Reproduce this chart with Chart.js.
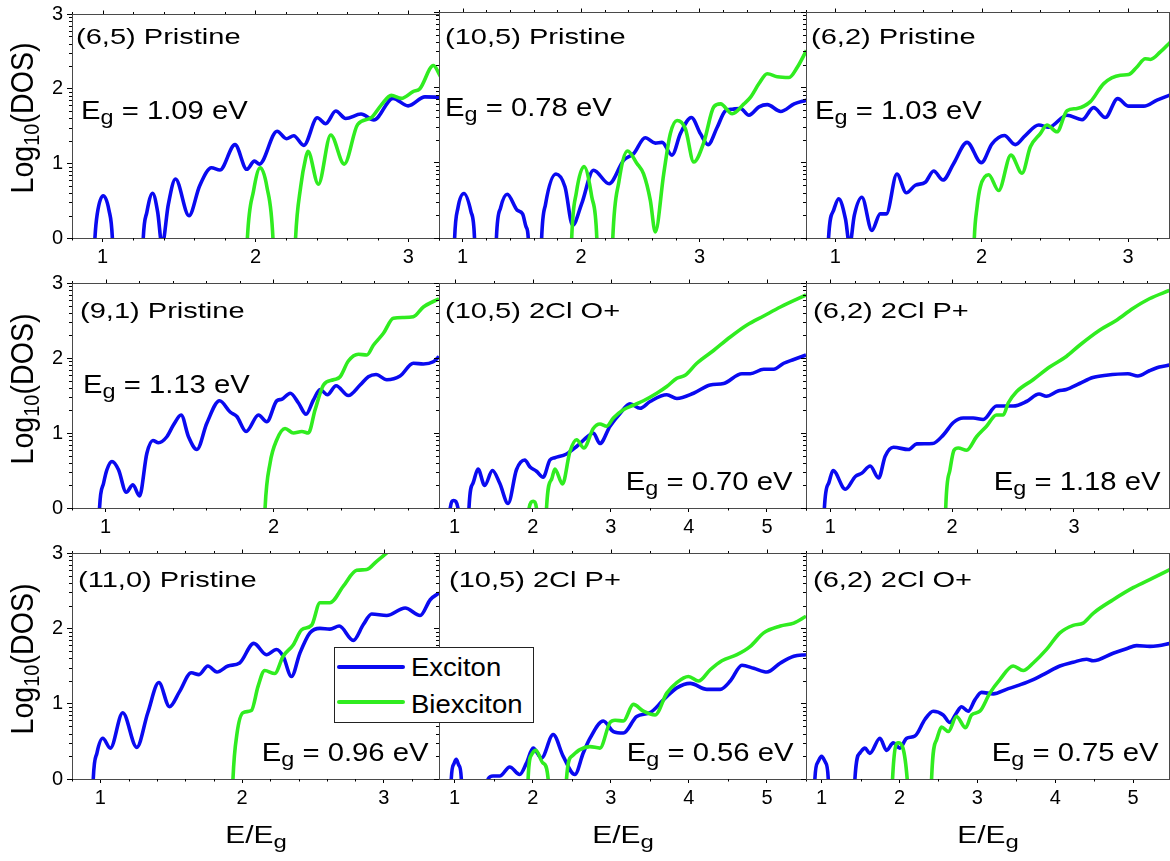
<!DOCTYPE html>
<html><head><meta charset="utf-8">
<script src="https://cdn.jsdelivr.net/npm/chart.js@4.4.1/dist/chart.umd.min.js"></script>
<style>
html,body{margin:0;padding:0;background:#fff;}
#fig{position:relative;width:1170px;height:861px;overflow:hidden;background:#fff;font-family:"Liberation Sans",Arial,sans-serif;color:#000;}
#fig canvas{position:absolute;left:0;top:0;}
.lbl{position:absolute;white-space:nowrap;line-height:1;color:#000;}
.sub{position:relative;}
#legend{position:absolute;box-sizing:border-box;background:#fff;border:1px solid #222;z-index:5;}
</style></head>
<body><div id="fig"></div>
<script>
// ---------------- data ----------------
const SERIES_NAMES = ['Exciton', 'Biexciton'];
const PANEL_TITLES = ['(6,5) Pristine', '(10,5) Pristine', '(6,2) Pristine',
                      '(9,1) Pristine', '(10,5) 2Cl O+', '(6,2) 2Cl P+',
                      '(11,0) Pristine', '(10,5) 2Cl P+', '(6,2) 2Cl O+'];
const GAP_VALUES = ['1.09', '0.78', '1.03', '1.13', '0.70', '1.18', '0.96', '0.56', '0.75'];
const X_TICKS_TWO = [1, 2];
const X_TICKS_SHORT = [1, 2, 3];
const X_TICKS_LONG = [1, 2, 3, 4, 5];
const Y_TICKS = [0, 1, 2, 3];
const X_RANGES = [[0.8, 3.2], [0.8, 3.9], [0.8, 3.28], [0.8, 2.986], [0.8, 5.5], [0.8, 3.78], [0.8, 3.39], [0.8, 5.5], [0.8, 5.46]];
const Y_RANGE = [0, 3];

// (6,5) Pristine
const EXC_65_P = [[0.93,-1],[0.95,0],[0.965,0.32],[1.004,0.566],[1.042,0.37],[1.064,0],[1.08,-1],
 [1.25,-1],[1.266,0],[1.29,0.35],[1.327,0.60],[1.36,0.35],[1.389,-0.1],[1.43,0.45],[1.477,0.79],[1.565,0.30],[1.635,0.70],[1.712,0.94],[1.767,0.91],[1.866,1.25],[1.943,0.92],[1.993,1.03],[2.026,0.99],[2.141,1.43],[2.202,1.33],[2.25,1.37],[2.316,1.24],[2.404,1.61],[2.459,1.53],[2.525,1.70],[2.59,1.60],[2.69,1.66],[2.774,1.58],[2.899,1.87],[2.998,1.77],[3.108,1.89],[3.211,1.885]];
const BIX_65_P = [[1.93,-1],[1.947,0],[1.987,0.63],[2.031,0.94],[2.075,0.68],[2.114,0],[2.13,-1],
 [2.245,-1],[2.262,0],[2.295,0.68],[2.328,1.07],[2.343,1.16],[2.411,0.72],[2.492,1.38],[2.58,0.99],[2.668,1.52],[2.756,1.61],[2.822,1.78],[2.888,1.91],[2.954,1.87],[3.03,1.96],[3.075,2.0],[3.163,2.31],[3.211,2.16]];
// (10,5) Pristine
const EXC_105_P = [[0.915,-1],[0.932,0],[0.96,0.40],[1.011,0.59],[1.07,0.35],[1.10,0],[1.115,-1],
 [1.27,-1],[1.285,0],[1.32,0.40],[1.376,0.58],[1.46,0.37],[1.506,0.32],[1.535,0.15],[1.554,0],[1.57,-1],
 [1.65,-1],[1.667,0],[1.70,0.45],[1.788,0.85],[1.864,0.68],[1.929,0.17],[2.006,0.46],[2.105,0.90],[2.237,0.72],[2.359,1.03],[2.444,1.12],[2.542,1.33],[2.627,1.26],[2.684,1.27],[2.768,1.10],[2.839,1.385],[2.932,1.60],[3.008,1.385],[3.073,1.24],[3.15,1.47],[3.22,1.69],[3.277,1.71],[3.347,1.72],[3.418,1.63],[3.503,1.74],[3.573,1.77],[3.686,1.68],[3.80,1.78],[3.904,1.83]];
const BIX_105_P = [[1.905,-1],[1.921,0],[1.96,0.60],[2.025,0.95],[2.09,0.55],[2.133,0],[2.15,-1],
 [2.25,-1],[2.268,0],[2.32,0.75],[2.393,1.155],[2.472,0.99],[2.528,0.85],[2.585,0.50],[2.627,0.08],[2.698,0.85],[2.754,1.385],[2.811,1.56],[2.881,1.45],[2.952,1.01],[3.037,1.27],[3.121,1.74],[3.178,1.78],[3.277,1.65],[3.376,1.78],[3.432,1.87],[3.503,2.05],[3.573,2.18],[3.658,2.14],[3.757,2.13],[3.828,2.27],[3.904,2.49]];
// (6,2) Pristine
const EXC_62_P = [[0.94,-1],[0.954,0],[0.989,0.37],[1.023,0.52],[1.07,0.25],[1.098,-0.1],[1.13,0.30],[1.182,0.54],[1.25,0.10],[1.307,0.32],[1.349,0.32],[1.421,0.85],[1.485,0.60],[1.547,0.70],[1.615,0.74],[1.672,0.89],[1.736,0.77],[1.809,0.99],[1.90,1.27],[1.998,1.0],[2.071,1.25],[2.155,1.36],[2.23,1.24],[2.298,1.36],[2.39,1.50],[2.458,1.47],[2.583,1.63],[2.686,1.57],[2.765,1.73],[2.845,1.60],[2.929,1.85],[3.005,1.75],[3.107,1.75],[3.198,1.83],[3.289,1.90]];
const BIX_62_P = [[1.935,-1],[1.95,0],[1.968,0.40],[1.991,0.68],[2.048,0.84],[2.116,0.63],[2.20,1.10],[2.276,0.86],[2.333,1.21],[2.401,1.385],[2.446,1.50],[2.515,1.41],[2.583,1.69],[2.652,1.72],[2.743,1.81],[2.834,2.05],[2.948,2.16],[3.005,2.17],[3.061,2.27],[3.118,2.38],[3.153,2.37],[3.221,2.47],[3.289,2.60]];
// (9,1) Pristine
const EXC_91_P = [[0.95,-1],[0.964,0],[0.988,0.33],[1.008,0.51],[1.038,0.62],[1.077,0.51],[1.123,0.21],[1.163,0.31],[1.202,0.16],[1.246,0.73],[1.282,0.90],[1.315,0.87],[1.365,0.95],[1.405,1.11],[1.45,1.24],[1.494,0.95],[1.544,0.78],[1.603,1.13],[1.679,1.43],[1.742,1.28],[1.782,1.22],[1.837,1.02],[1.911,1.24],[1.96,1.15],[2.02,1.43],[2.05,1.45],[2.10,1.53],[2.149,1.40],[2.194,1.25],[2.238,1.44],[2.278,1.58],[2.321,1.51],[2.373,1.63],[2.446,1.50],[2.516,1.64],[2.565,1.75],[2.611,1.78],[2.675,1.71],[2.754,1.76],[2.833,1.93],[2.893,1.92],[2.952,1.95],[2.986,2.02]];
const BIX_91_P = [[1.935,-1],[1.95,0],[1.98,0.60],[2.02,0.91],[2.069,1.06],[2.119,1.0],[2.169,1.02],[2.208,1.0],[2.248,1.31],[2.298,1.64],[2.357,1.71],[2.397,1.75],[2.446,1.96],[2.506,2.05],[2.556,2.04],[2.595,2.17],[2.655,2.33],[2.714,2.53],[2.774,2.54],[2.833,2.55],[2.893,2.68],[2.986,2.79]];
// (10,5) 2Cl O+
const EXC_105_O = [[0.93,-1],[0.944,0],[0.987,0.10],[1.043,0],[1.06,-1],
 [1.17,-1],[1.184,0],[1.235,0.33],[1.30,0.52],[1.385,0.30],[1.484,0.50],[1.578,0.33],[1.685,0.06],[1.792,0.51],[1.899,0.64],[1.963,0.55],[2.048,0.49],[2.134,0.41],[2.22,0.64],[2.284,0.67],[2.433,0.72],[2.562,0.82],[2.712,0.96],[2.776,1.0],[2.861,0.86],[2.99,1.09],[3.118,1.26],[3.246,1.39],[3.375,1.33],[3.503,1.42],[3.717,1.51],[3.846,1.46],[4.06,1.53],[4.273,1.64],[4.445,1.66],[4.68,1.79],[4.787,1.79],[4.958,1.85],[5.086,1.85],[5.215,1.93],[5.343,1.98],[5.50,2.04]];
const BIX_105_O = [[1.94,-1],[1.954,0],[2.006,0.09],[2.048,0],[2.06,-1],
 [2.165,-1],[2.177,0],[2.241,0.38],[2.284,0.52],[2.382,0.32],[2.476,0.75],[2.562,0.91],[2.656,0.80],[2.776,1.06],[2.861,1.12],[2.947,1.09],[3.033,1.20],[3.161,1.31],[3.289,1.37],[3.418,1.43],[3.589,1.53],[3.717,1.62],[3.846,1.73],[3.952,1.77],[4.102,1.93],[4.316,2.10],[4.53,2.28],[4.744,2.44],[4.958,2.56],[5.172,2.68],[5.50,2.84]];
// (6,2) 2Cl P+
const EXC_62_PP = [[0.94,-1],[0.951,0],[0.986,0.33],[1.022,0.50],[1.123,0.25],[1.205,0.42],[1.259,0.465],[1.327,0.56],[1.396,0.40],[1.45,0.69],[1.518,0.81],[1.641,0.78],[1.709,0.855],[1.84,0.86],[1.928,0.975],[2.01,1.14],[2.091,1.20],[2.173,1.20],[2.255,1.18],[2.364,1.36],[2.501,1.36],[2.61,1.42],[2.713,1.52],[2.773,1.49],[2.869,1.56],[2.937,1.58],[3.046,1.66],[3.155,1.74],[3.265,1.77],[3.442,1.79],[3.524,1.76],[3.619,1.83],[3.701,1.88],[3.783,1.905]];
const BIX_62_PP = [[1.935,-1],[1.947,0],[1.982,0.51],[2.015,0.77],[2.05,0.80],[2.119,0.77],[2.20,0.95],[2.282,1.09],[2.364,1.24],[2.419,1.24],[2.46,1.40],[2.528,1.55],[2.664,1.71],[2.80,1.88],[2.937,2.02],[3.046,2.17],[3.21,2.37],[3.346,2.50],[3.483,2.66],[3.619,2.79],[3.783,2.90]];
// (11,0) Pristine
const EXC_110_P = [[0.935,-1],[0.95,0],[0.976,0.345],[1.017,0.54],[1.071,0.41],[1.158,0.88],[1.257,0.42],[1.335,0.88],[1.413,1.28],[1.488,0.96],[1.559,1.16],[1.642,1.41],[1.696,1.385],[1.759,1.50],[1.823,1.42],[1.901,1.50],[1.983,1.54],[2.083,1.80],[2.172,1.65],[2.243,1.72],[2.29,1.63],[2.349,1.36],[2.408,1.67],[2.479,1.94],[2.55,2.0],[2.62,1.99],[2.686,2.03],[2.785,1.84],[2.856,2.05],[2.915,2.19],[3.021,2.17],[3.151,2.27],[3.257,2.17],[3.328,2.38],[3.392,2.47]];
const BIX_110_P = [[1.92,-1],[1.936,0],[1.965,0.61],[2.007,0.88],[2.066,0.91],[2.113,1.23],[2.16,1.44],[2.231,1.40],[2.29,1.63],[2.361,1.78],[2.42,1.98],[2.491,2.04],[2.55,2.34],[2.62,2.34],[2.715,2.56],[2.809,2.77],[2.88,2.78],[2.95,2.89],[3.021,3.0],[3.116,3.18],[3.2,3.4]];
// (10,5) 2Cl P+
const EXC_105_PP = [[0.94,-1],[0.957,0],[0.99,0.20],[1.021,0.26],[1.055,0.18],[1.086,0],[1.10,-1],
 [1.415,-1],[1.428,0],[1.492,0.04],[1.578,0.04],[1.706,0.16],[1.834,0.06],[1.92,0.21],[2.006,0.41],[2.113,0.28],[2.262,0.59],[2.391,0.30],[2.54,0.06],[2.647,0.345],[2.733,0.54],[2.904,0.77],[3.033,0.63],[3.161,0.61],[3.332,0.83],[3.503,0.88],[3.674,1.05],[3.845,1.21],[4.017,1.27],[4.231,1.19],[4.402,1.19],[4.53,1.30],[4.68,1.51],[4.83,1.47],[5.0,1.42],[5.172,1.54],[5.343,1.63],[5.50,1.65]];
const BIX_105_PP = [[1.93,-1],[1.941,0],[1.984,0.32],[2.04,0.38],[2.134,0.21],[2.198,0],[2.21,-1],
 [2.42,-1],[2.433,0],[2.498,0.30],[2.605,0.39],[2.733,0.43],[2.861,0.41],[2.99,0.75],[3.054,0.78],[3.161,0.77],[3.289,0.99],[3.418,0.90],[3.567,0.85],[3.717,1.14],[3.845,1.28],[3.995,1.36],[4.124,1.30],[4.273,1.45],[4.423,1.57],[4.616,1.65],[4.787,1.76],[4.958,1.94],[5.172,2.03],[5.343,2.07],[5.50,2.16]];
// (6,2) 2Cl O+
const EXC_62_O = [[0.90,-1],[0.914,0],[0.95,0.22],[1.0,0.30],[1.05,0.22],[1.086,0],[1.10,-1],
 [1.415,-1],[1.428,0],[1.492,0.345],[1.556,0.41],[1.62,0.34],[1.749,0.54],[1.834,0.38],[1.92,0.48],[2.005,0.41],[2.091,0.54],[2.198,0.57],[2.326,0.79],[2.433,0.90],[2.561,0.85],[2.647,0.75],[2.733,0.88],[2.797,0.96],[2.882,0.90],[2.968,1.05],[3.053,1.15],[3.203,1.13],[3.374,1.19],[3.545,1.25],[3.717,1.32],[3.888,1.41],[4.059,1.50],[4.23,1.55],[4.401,1.59],[4.487,1.57],[4.743,1.67],[4.914,1.73],[5.043,1.77],[5.214,1.76],[5.321,1.77],[5.471,1.80]];
const BIX_62_O = [[1.90,-1],[1.911,0],[1.984,0.48],[2.099,0],[2.11,-1],
 [2.40,-1],[2.412,0],[2.476,0.52],[2.54,0.69],[2.626,0.63],[2.733,0.83],[2.848,0.68],[2.925,0.85],[3.032,0.90],[3.16,1.14],[3.289,1.32],[3.46,1.50],[3.588,1.44],[3.717,1.54],[3.888,1.72],[4.059,1.94],[4.23,2.04],[4.358,2.07],[4.487,2.20],[4.743,2.38],[5.0,2.54],[5.257,2.67],[5.471,2.78]];

const EXCITON = [EXC_65_P, EXC_105_P, EXC_62_P, EXC_91_P, EXC_105_O, EXC_62_PP, EXC_110_P, EXC_105_PP, EXC_62_O];
const BIEXCITON = [BIX_65_P, BIX_105_P, BIX_62_P, BIX_91_P, BIX_105_O, BIX_62_PP, BIX_110_P, BIX_105_PP, BIX_62_O];
const X_TICKS = [X_TICKS_SHORT, X_TICKS_SHORT, X_TICKS_SHORT, X_TICKS_TWO, X_TICKS_LONG, X_TICKS_SHORT, X_TICKS_SHORT, X_TICKS_LONG, X_TICKS_LONG];

// ---------------- layout & style ----------------
const W = 1170, H = 861;
const COLS = [[72, 439], [439, 806], [806, 1169]];
const ROWS = [[12, 238], [283, 508], [553, 779]];
const BLUE = '#0a0af0', GREEN = '#30ec20', FRAME = '#4a4a4a';
const FONT = '"Liberation Sans", Arial, sans-serif';
const MINOR_STEP = [0.2, 0.2, 0.2, 0.2, 0.5, 0.2, 0.2, 0.5, 0.5];
// label anchor positions
const TITLE_POS = [[76, 37], [445, 37], [811, 37], [80, 311], [445, 311], [813, 311], [78, 580], [449, 580], [813, 580]];
const GAP_POS = [['l', 81, 110], ['l', 445, 107], ['l', 815, 110], ['l', 83, 384],
                 ['r', 792, 481], ['r', 1160, 481], ['r', 428, 752], ['r', 793, 752], ['r', 1158, 752]];

const fig = document.getElementById('fig');

const framePlugin = {
  id: 'frameTicks',
  afterDraw(chart, _args, o) {
    const {ctx, chartArea: a} = chart;
    const xs = chart.scales.x, ys = chart.scales.y;
    ctx.save();
    ctx.lineWidth = 1;
    ctx.strokeStyle = FRAME;
    ctx.strokeRect(Math.round(a.left) + 0.5, Math.round(a.top) + 0.5, Math.round(a.right - a.left), Math.round(a.bottom - a.top));
    ctx.strokeStyle = '#000';
    ctx.beginPath();
    const step = o.minorStep;
    const k0 = Math.ceil(xs.min / step - 1e-9);
    for (let k = k0; k * step <= xs.max + 1e-9; k++) {
      const v = k * step;
      const isMajor = Math.abs(v - Math.round(v)) < 1e-6;
      const px = Math.round(xs.getPixelForValue(v)) + 0.5;
      const len = isMajor ? 3.5 : 2;
      if (!isMajor) { ctx.moveTo(px, a.bottom); ctx.lineTo(px, a.bottom + 2.5); }
      ctx.moveTo(px, a.top); ctx.lineTo(px, a.top - len);
    }
    for (let d = 0; d < 3; d++) {
      for (let m = 2; m <= 9; m++) {
        const py = Math.round(ys.getPixelForValue(d + Math.log10(m))) + 0.5;
        ctx.moveTo(a.left, py); ctx.lineTo(a.left - 3, py);
      }
    }
    ctx.stroke();
    ctx.restore();
  }
};

function toXY(arr) { return arr.map(p => ({x: p[0], y: p[1]})); }

for (let i = 0; i < 9; i++) {
  const r = Math.floor(i / 3), c = i % 3;
  const [L, R] = COLS[c], [T, B] = ROWS[r];
  const yW = c === 0 ? 72 : 10;
  const xH = 32;
  const cv = document.createElement('canvas');
  cv.width = W; cv.height = H;
  cv.style.width = W + 'px'; cv.style.height = H + 'px';
  fig.appendChild(cv);
  const xt = X_TICKS[i];
  new Chart(cv, {
    type: 'line',
    data: {
      datasets: [
        {label: SERIES_NAMES[0], data: toXY(EXCITON[i]), borderColor: BLUE, backgroundColor: BLUE, order: 1},
        {label: SERIES_NAMES[1], data: toXY(BIEXCITON[i]), borderColor: GREEN, backgroundColor: GREEN, order: 0}
      ]
    },
    options: {
      responsive: false, animation: false, devicePixelRatio: 1, events: [],
      layout: {padding: {left: L - yW, top: T, right: W - R, bottom: H - B - xH}},
      elements: {
        line: {borderWidth: 3.6, cubicInterpolationMode: 'monotone', fill: false, capBezierPoints: true},
        point: {radius: 0, hoverRadius: 0}
      },
      datasets: {line: {clip: 0}},
      plugins: {legend: {display: false}, tooltip: {enabled: false}, frameTicks: {minorStep: MINOR_STEP[i]}},
      scales: {
        x: {
          type: 'linear', position: 'bottom', min: X_RANGES[i][0], max: X_RANGES[i][1],
          afterBuildTicks: s => { s.ticks = xt.map(v => ({value: v})); },
          afterFit: s => { s.height = xH; },
          ticks: {font: {family: FONT, size: 20, lineHeight: 1}, color: '#000', padding: 5, maxRotation: 0, autoSkip: false, includeBounds: false},
          grid: {drawOnChartArea: false, drawTicks: true, tickLength: 4, tickColor: '#000', color: '#000', lineWidth: 1},
          border: {display: true, color: FRAME, width: 1}
        },
        y: {
          type: 'linear', position: 'left', min: Y_RANGE[0], max: Y_RANGE[1],
          afterBuildTicks: s => { s.ticks = Y_TICKS.map(v => ({value: v})); },
          afterFit: s => { s.width = yW; },
          ticks: {display: c === 0, font: {family: FONT, size: 20, lineHeight: 1}, color: '#000', padding: 4, autoSkip: false, includeBounds: false},
          grid: {drawOnChartArea: false, drawTicks: true, tickLength: 5, tickColor: '#000', color: '#000', lineWidth: 1},
          border: {display: true, color: FRAME, width: 1}
        }
      }
    },
    plugins: [framePlugin]
  });
}

// ---------------- text overlays ----------------
function addText(html, anchor, x, capY, size, sx) {
  const d = document.createElement('div');
  d.className = 'lbl';
  d.innerHTML = html;
  d.style.fontSize = size + 'px';
  d.style.top = (capY - 0.49 * size) + 'px';
  d.style.zIndex = 3;
  if (anchor === 'l') { d.style.left = x + 'px'; d.style.transformOrigin = 'left center'; d.style.transform = `scaleX(${sx})`; }
  else if (anchor === 'r') { d.style.right = (W - x) + 'px'; d.style.transformOrigin = 'right center'; d.style.transform = `scaleX(${sx})`; }
  else { d.style.left = x + 'px'; d.style.transformOrigin = 'center center'; d.style.transform = `translateX(-50%) scaleX(${sx})`; }
  fig.appendChild(d);
  return d;
}
const SUB_G = '<span class="sub" style="font-size:0.8em;top:0.26em">g</span>';
for (let i = 0; i < 9; i++) {
  addText(PANEL_TITLES[i], 'l', TITLE_POS[i][0], TITLE_POS[i][1], 22, 1.32);
  const g = GAP_POS[i];
  addText('E' + SUB_G + ' = ' + GAP_VALUES[i] + ' eV', g[0], g[1], g[2], 25, 1.17);
}
// x-axis titles (bottom row)
for (let c = 0; c < 3; c++) {
  const cx = (COLS[c][0] + COLS[c][1]) / 2;
  addText('E/E' + SUB_G, 'c', cx, 835, 23, 1.3);
}
// y-axis titles (left column)
for (let r = 0; r < 3; r++) {
  const cy = (ROWS[r][0] + ROWS[r][1]) / 2 - 7;
  const d = document.createElement('div');
  d.className = 'lbl';
  d.innerHTML = 'Log<span class="sub" style="font-size:0.7em;top:0.25em">10</span>(DOS)';
  d.style.fontSize = '26px';
  d.style.left = '21.5px';
  d.style.top = cy + 'px';
  d.style.transform = 'translate(-50%,-50%) rotate(-90deg) scale(1.1,1.18)';
  fig.appendChild(d);
}
// legend
const lg = document.createElement('div');
lg.id = 'legend';
lg.style.left = '334px'; lg.style.top = '647px'; lg.style.width = '200px'; lg.style.height = '76px';
fig.appendChild(lg);
const LEG_COLORS = [BLUE, GREEN];
const LEG_LINE_Y = [17, 52];
const LEG_TEXT_CY = [19.5, 56];
SERIES_NAMES.forEach((name, k) => {
  const ln = document.createElement('div');
  ln.style.cssText = `position:absolute;left:2px;top:${LEG_LINE_Y[k]}px;width:68px;height:4px;border-radius:2px;background:${LEG_COLORS[k]}`;
  lg.appendChild(ln);
  const t = document.createElement('div');
  t.className = 'lbl';
  t.textContent = name;
  t.style.fontSize = '25px';
  t.style.left = '76px';
  t.style.top = (LEG_TEXT_CY[k] - 0.49 * 25) + 'px';
  t.style.transformOrigin = 'left center';
  t.style.transform = 'scaleX(1.1)';
  lg.appendChild(t);
});
</script></body></html>
